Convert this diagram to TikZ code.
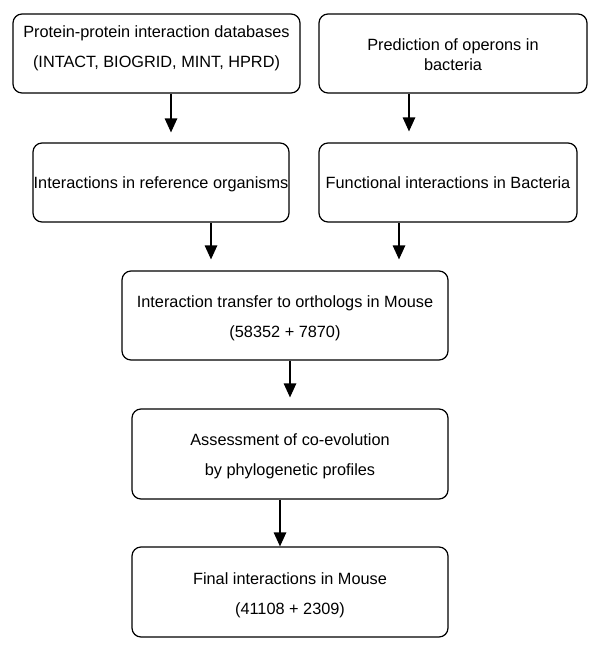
\documentclass[tikz,border=0pt]{standalone}
\usepackage{fontspec}
\setmainfont{Liberation Sans}
\usetikzlibrary{arrows.meta}
\tikzset{
  box/.style={draw=black, line width=1.2pt, rounded corners=9pt, inner sep=0pt, fill=white},
  txt/.style={anchor=base, inner sep=0pt, font=\fontsize{16.3}{20}\selectfont},
  arr/.style={draw=black, line width=1.2pt, -{Triangle[width=12.5pt,length=14pt]}}
}
\begin{document}
\begin{tikzpicture}[x=1pt,y=-1pt]
\useasboundingbox (0,0) rectangle (600,653);
% boxes
\node[box, minimum width=287pt, minimum height=79pt] (b1) at (156.5,53.5) {};
\node[box, minimum width=268pt, minimum height=79pt] (b2) at (453,53.5) {};
\node[box, minimum width=256pt, minimum height=79pt] (b3) at (161,182.5) {};
\node[box, minimum width=258pt, minimum height=79pt] (b4) at (448,182.5) {};
\node[box, minimum width=326pt, minimum height=89pt] (b5) at (285,315.5) {};
\node[box, minimum width=316pt, minimum height=90pt] (b6) at (290,454) {};
\node[box, minimum width=316pt, minimum height=90pt] (b7) at (290,592) {};
% texts
\node[txt] (t1a) at (156.5,37.5) {Protein-protein interaction databases};
\node[txt] (t1b) at (156.5,67.5) {(INTACT, BIOGRID, MINT, HPRD)};
\node[txt] (t2a) at (453,50) {Prediction of operons in};
\node[txt] (t2b) at (453,70) {bacteria};
\node[txt] (t3) at (161,188) {Interactions in reference organisms};
\node[txt] (t4) at (448,188) {Functional interactions in Bacteria};
\node[txt] (t5a) at (285,307) {Interaction transfer to orthologs in Mouse};
\node[txt] (t5b) at (285,337) {(58352 + 7870)};
\node[txt] (t6a) at (290,445.5) {Assessment of co-evolution};
\node[txt] (t6b) at (290,475) {by phylogenetic profiles};
\node[txt] (t7a) at (290,584) {Final interactions in Mouse};
\node[txt] (t7b) at (290,614) {(41108 + 2309)};
% arrows
\draw[arr, shorten >=10pt] ([xshift=14.5pt]b1.south) -- ([xshift=10pt]b3.north);
\draw[arr, shorten >=11pt] ([xshift=-44pt]b2.south) -- ([xshift=-39pt]b4.north);
\draw[arr, shorten >=11pt] ([xshift=50pt]b3.south) -- ([xshift=-74pt]b5.north);
\draw[arr, shorten >=11pt] ([xshift=-49pt]b4.south) -- ([xshift=114pt]b5.north);
\draw[arr, shorten >=11pt] ([xshift=5pt]b5.south) -- (b6.north);
\draw[arr] ([xshift=-10pt]b6.south) -- ([xshift=-10pt]b7.north);
\end{tikzpicture}
\end{document}
